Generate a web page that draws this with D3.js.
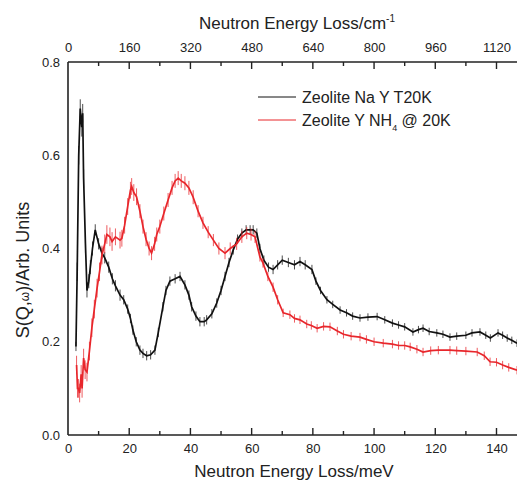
<!DOCTYPE html>
<html>
<head>
<meta charset="utf-8">
<script src="https://cdn.jsdelivr.net/npm/d3@7"></script>
<style>
  body { margin: 0; background: #fff; }
  text { font-family: "Liberation Sans", Arial, sans-serif; fill: #222; }
</style>
</head>
<body>
<div id="content"></div>
<script>
// energy (meV), S(Q,w), error
const naY = [
  [2.6,0.19,0.01],[3.0,0.35,0.02],[3.5,0.60,0.02],[4.0,0.70,0.02],[4.5,0.66,0.02],[4.8,0.69,0.02],
  [5.1,0.55,0.02],[5.7,0.41,0.02],[6.2,0.31,0.015],[6.8,0.33,0.015],[7.3,0.36,0.015],[8.0,0.40,0.015],
  [8.9,0.44,0.012],[10,0.41,0.012],[11.1,0.39,0.012],[12,0.38,0.012],[13.3,0.36,0.012],[14.5,0.335,0.012],
  [15.5,0.32,0.012],[17,0.30,0.012],[18.2,0.29,0.01],[19.5,0.27,0.01],[20.4,0.25,0.01],[21.2,0.225,0.01],
  [22.3,0.20,0.01],[23.5,0.182,0.01],[24.5,0.175,0.01],[25.7,0.17,0.01],[27,0.172,0.01],[28.4,0.182,0.01],
  [29.5,0.22,0.01],[31,0.275,0.01],[32,0.31,0.01],[33.3,0.33,0.01],[35,0.335,0.01],[36.6,0.34,0.01],
  [38.2,0.322,0.01],[39.5,0.30,0.01],[40.4,0.275,0.01],[41.8,0.255,0.01],[43.1,0.243,0.01],[44.5,0.243,0.01],
  [45.3,0.247,0.01],[47,0.26,0.01],[48.6,0.283,0.01],[50,0.31,0.01],[51.3,0.34,0.01],[52.6,0.37,0.01],
  [54,0.397,0.01],[55.4,0.42,0.01],[56.8,0.433,0.01],[58.2,0.44,0.01],[59.5,0.44,0.01],[60.5,0.44,0.01],
  [61.7,0.433,0.01],[62.7,0.40,0.01],[64,0.375,0.01],[65.5,0.36,0.01],[67,0.355,0.01],[68.5,0.365,0.01],
  [70,0.375,0.01],[72,0.37,0.01],[74,0.365,0.01],[75.8,0.372,0.01],[77.5,0.365,0.01],[79.7,0.355,0.01],
  [81,0.33,0.008],[82.5,0.31,0.008],[84.6,0.29,0.008],[86.5,0.28,0.008],[88.9,0.268,0.008],[91,0.262,0.008],
  [93,0.255,0.008],[95.4,0.251,0.008],[98,0.253,0.008],[101,0.254,0.008],[103.5,0.247,0.008],[106,0.24,0.008],
  [108,0.236,0.008],[110,0.232,0.008],[112.7,0.221,0.008],[114.5,0.226,0.008],[116,0.229,0.008],[118,0.222,0.008],
  [120.5,0.219,0.008],[122.5,0.216,0.008],[124.8,0.21,0.008],[127,0.212,0.008],[130,0.214,0.008],[132,0.219,0.008],
  [134.6,0.221,0.008],[136.5,0.214,0.008],[138,0.208,0.008],[140.5,0.219,0.008],[142,0.214,0.008],[143.5,0.208,0.008],
  [145,0.203,0.008],[146.7,0.197,0.008]
];

const nh4Y = [
  [2.8,0.15,0.02],[3.1,0.10,0.02],[3.4,0.10,0.02],[3.8,0.09,0.02],[4.3,0.13,0.02],[4.6,0.10,0.02],
  [5.1,0.165,0.02],[5.6,0.14,0.02],[6.2,0.135,0.02],[7.0,0.18,0.02],[7.8,0.23,0.02],[8.6,0.27,0.02],
  [9.5,0.315,0.02],[10.3,0.35,0.02],[11.1,0.386,0.02],[12,0.41,0.02],[12.7,0.43,0.02],[13.7,0.425,0.02],
  [14.4,0.415,0.02],[15.5,0.425,0.018],[17,0.418,0.018],[17.6,0.422,0.018],[18.5,0.45,0.018],[19.5,0.49,0.018],
  [20.4,0.525,0.018],[20.8,0.533,0.018],[21.5,0.52,0.018],[22.4,0.511,0.018],[23.5,0.48,0.015],[24.5,0.447,0.015],
  [25.5,0.42,0.015],[26.5,0.40,0.015],[27.3,0.39,0.015],[28.3,0.41,0.015],[29,0.43,0.015],[30,0.447,0.015],
  [31.3,0.475,0.015],[32.7,0.504,0.015],[34,0.53,0.015],[35,0.545,0.015],[36,0.551,0.015],[37,0.545,0.015],
  [38.2,0.54,0.015],[39.5,0.53,0.015],[40.9,0.51,0.015],[42.5,0.48,0.013],[44.1,0.455,0.013],[45.8,0.435,0.013],
  [47.5,0.418,0.013],[49.3,0.40,0.013],[51.3,0.39,0.013],[53,0.40,0.013],[55.1,0.41,0.013],[56.8,0.425,0.013],
  [58.4,0.433,0.013],[59.8,0.43,0.013],[61.1,0.425,0.013],[62.7,0.382,0.01],[63.7,0.369,0.01],[65.3,0.34,0.01],
  [67,0.317,0.01],[68.5,0.29,0.01],[70.3,0.262,0.009],[72.5,0.258,0.009],[74,0.25,0.009],[75.8,0.247,0.009],
  [78,0.238,0.009],[79.5,0.235,0.009],[81.4,0.229,0.009],[83.5,0.233,0.009],[85.6,0.232,0.009],[88,0.223,0.009],
  [90,0.216,0.009],[92.5,0.212,0.009],[95.4,0.21,0.009],[97.5,0.205,0.009],[100,0.20,0.009],[103,0.197,0.009],
  [106,0.195,0.009],[108,0.192,0.009],[110,0.192,0.009],[111.8,0.189,0.009],[114,0.184,0.009],[116,0.178,0.009],
  [118.5,0.181,0.009],[121,0.182,0.009],[124.8,0.182,0.009],[127,0.181,0.009],[130,0.180,0.009],[133.7,0.178,0.009],
  [136,0.170,0.009],[137.9,0.157,0.009],[140,0.156,0.009],[142,0.150,0.009],[144,0.145,0.009],[146.7,0.139,0.009]
];

const seriesNames = ["Zeolite Na Y T20K", "Zeolite Y NH4 @ 20K"];
const seriesColors = ["#111111", "#e8262b"];
const meVTicks = [0, 20, 40, 60, 80, 100, 120, 140];
const cmTicks = [0, 160, 320, 480, 640, 800, 960, 1120];
const yTicks = [0.0, 0.2, 0.4, 0.6, 0.8];

const W = 517, H = 482;
const pLeft = 68, pRight = 517, pTop = 62, pBottom = 435;
const xMax = 146.7;

const svg = d3.select("#content").append("svg")
  .attr("width", W).attr("height", H);

const x = d3.scaleLinear().domain([0, xMax]).range([pLeft, pRight]);
const xTop = d3.scaleLinear().domain([0, xMax * 8]).range([pLeft, pRight]);
const y = d3.scaleLinear().domain([0, 0.8]).range([pBottom, pTop]);

// clip the data to the frame
svg.append("clipPath").attr("id", "plotclip")
  .append("rect").attr("x", pLeft).attr("y", pTop).attr("width", pRight - pLeft).attr("height", pBottom - pTop);

const plot = svg.append("g").attr("clip-path", "url(#plotclip)");

[naY, nh4Y].forEach((data, i) => {
  let g = plot.append("g");
  // error bars
  g.selectAll("line.err")
    .data(data)
    .enter()
    .append("line")
    .attr("class", "err")
    .attr("x1", d => x(d[0]))
    .attr("x2", d => x(d[0]))
    .attr("y1", d => y(d[1] - d[2]))
    .attr("y2", d => y(d[1] + d[2]))
    .attr("stroke", seriesColors[i])
    .attr("stroke-width", 1)
    .attr("stroke-opacity", 0.75);

  g.append("path")
    .datum(data)
    .attr("fill", "none")
    .attr("stroke", seriesColors[i])
    .attr("stroke-width", 1.7)
    .attr("d", d3.line().x(d => x(d[0])).y(d => y(d[1])));
});

// bottom axis
let bottomAxis = svg.append("g")
  .attr("transform", `translate(0,${pBottom})`)
  .call(d3.axisBottom(x).tickValues(meVTicks).tickSize(0).tickPadding(9).tickFormat(d3.format("d")));
bottomAxis.select(".domain").remove();
bottomAxis.selectAll("text").style("font-size", "13px").attr("fill", "#222");

// top axis
let topAxis = svg.append("g")
  .attr("transform", `translate(0,${pTop})`)
  .call(d3.axisTop(xTop).tickValues(cmTicks).tickSize(0).tickPadding(10).tickFormat(d3.format("d")));
topAxis.select(".domain").remove();
topAxis.selectAll("text").style("font-size", "13px").attr("fill", "#222");

// left axis
let leftAxis = svg.append("g")
  .attr("transform", `translate(${pLeft},0)`)
  .call(d3.axisLeft(y).tickValues(yTicks).tickSize(0).tickPadding(8).tickFormat(d3.format(".1f")));
leftAxis.select(".domain").remove();
leftAxis.selectAll("text").style("font-size", "13px").attr("fill", "#222");

// frame lines
svg.append("line").attr("x1", pLeft).attr("x2", pRight).attr("y1", pBottom).attr("y2", pBottom)
  .attr("stroke", "#222").attr("stroke-width", 1.6);
svg.append("line").attr("x1", pLeft).attr("x2", pRight).attr("y1", pTop).attr("y2", pTop)
  .attr("stroke", "#222").attr("stroke-width", 1.6);
svg.append("line").attr("x1", pLeft).attr("x2", pLeft).attr("y1", pTop).attr("y2", pBottom)
  .attr("stroke", "#222").attr("stroke-width", 1.6);

// inward ticks, major every 20 meV and minor every 10
let minorMeV = d3.range(10, xMax, 20);
svg.selectAll("line.tb")
  .data(meVTicks.slice(1).map(d => [d, 7]).concat(minorMeV.map(d => [d, 4])))
  .enter().append("line")
  .attr("x1", d => x(d[0])).attr("x2", d => x(d[0]))
  .attr("y1", pBottom).attr("y2", d => pBottom - d[1])
  .attr("stroke", "#222").attr("stroke-width", 1.4);

let minorCm = d3.range(80, xMax * 8, 160);
svg.selectAll("line.tt")
  .data(cmTicks.slice(1).map(d => [d, 7]).concat(minorCm.map(d => [d, 4])))
  .enter().append("line")
  .attr("x1", d => xTop(d[0])).attr("x2", d => xTop(d[0]))
  .attr("y1", pTop).attr("y2", d => pTop + d[1])
  .attr("stroke", "#222").attr("stroke-width", 1.4);

// axis titles
svg.append("text")
  .attr("x", 294).attr("y", 477)
  .attr("text-anchor", "middle")
  .style("font-size", "17px")
  .text("Neutron Energy Loss/meV");

let tt = svg.append("text")
  .attr("x", 297).attr("y", 29)
  .attr("text-anchor", "middle")
  .style("font-size", "17px")
  .text("Neutron Energy Loss/cm");
tt.append("tspan").attr("dy", -7).style("font-size", "10px").text("-1");

let yl = svg.append("text")
  .attr("transform", "translate(29,270) rotate(-90)")
  .attr("text-anchor", "middle")
  .style("font-size", "18px");
yl.append("tspan").text("S(Q,");
yl.append("tspan").style("font-size", "12px").text("ω");
yl.append("tspan").text(")/Arb. Units");

// legend
let legendY = [97, 120];
seriesNames.forEach((name, i) => {
  svg.append("line")
    .attr("x1", 258).attr("x2", 296)
    .attr("y1", legendY[i]).attr("y2", legendY[i])
    .attr("stroke", seriesColors[i]).attr("stroke-width", 1);
  let t = svg.append("text")
    .attr("x", 302).attr("y", legendY[i] + 6)
    .style("font-size", "16px");
  if (i === 1) {
    t.append("tspan").text("Zeolite Y NH");
    t.append("tspan").attr("dy", 5).style("font-size", "9px").text("4");
    t.append("tspan").attr("dy", -5).text(" @ 20K");
  } else {
    t.text(name);
  }
});
</script>
</body>
</html>
